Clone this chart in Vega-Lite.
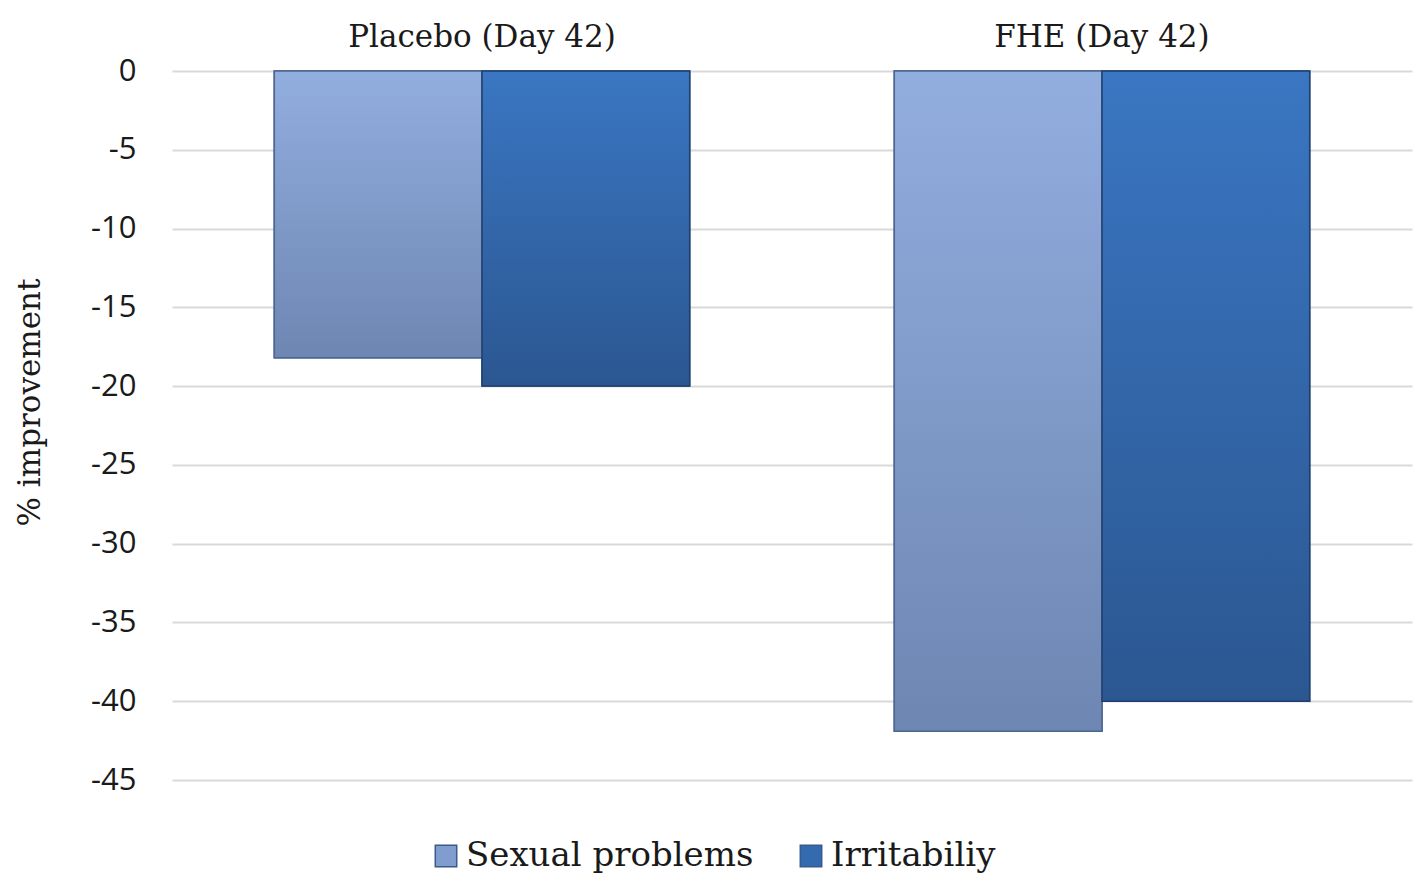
{
  "$schema": "https://vega.github.io/schema/vega-lite/v6.json",
  "width": 1240,
  "height": 709,
  "autosize": {"type": "none"},
  "padding": {"left": 172, "top": 71, "right": 6, "bottom": 104},
  "background": "white",
  "config": {"view": {"stroke": null}},
  "data": {
    "values": [
      {"group": "Placebo (Day 42)", "series": "Sexual problems", "value": -18.2},
      {"group": "Placebo (Day 42)", "series": "Irritabiliy", "value": -20.0},
      {"group": "FHE (Day 42)", "series": "Sexual problems", "value": -41.9},
      {"group": "FHE (Day 42)", "series": "Irritabiliy", "value": -40.0}
    ]
  },
  "encoding": {
    "x": {
      "field": "group", "type": "nominal", "sort": ["Placebo (Day 42)", "FHE (Day 42)"],
      "scale": {"paddingInner": 0.33, "paddingOuter": 0.165},
      "axis": {"orient": "top", "title": null, "domain": false, "ticks": false, "labelAngle": 0, "labelLimit": 0,
        "labelFont": "DejaVu Serif", "labelFontSize": 31, "labelColor": "#1a1a1a", "labelPadding": 34, "labelBaseline": "middle"}
    },
    "xOffset": {"field": "series", "type": "nominal", "sort": ["Sexual problems", "Irritabiliy"], "scale": {"paddingInner": 0, "paddingOuter": 0}},
    "y": {
      "field": "value", "type": "quantitative",
      "scale": {"domain": [-45, 0], "nice": false},
      "axis": {"values": [0, -5, -10, -15, -20, -25, -30, -35, -40, -45], "labelExpr": "toString(datum.value)",
        "title": "% improvement", "titleFont": "DejaVu Serif", "titleFontSize": 31, "titleFontWeight": "normal", "titleColor": "#1a1a1a", "titlePadding": 44, "titleY": 331,
        "domain": false, "ticks": false, "labelFont": "Open Sans", "labelFontSize": 31, "labelColor": "#1a1a1a", "labelPadding": 36,
        "grid": true, "gridColor": "#D9D9D9", "gridWidth": 2}
    }
  },
  "layer": [
    {
      "mark": {"type": "bar", "stroke": "#3b5a8c", "strokeWidth": 1.5},
      "encoding": {
        "color": {"field": "series", "type": "nominal", "sort": ["Sexual problems", "Irritabiliy"],
          "scale": {"domain": ["Sexual problems", "Irritabiliy"], "range": ["#819DCF", "#336AB0"]},
          "legend": {"orient": "none", "direction": "horizontal", "legendX": 257, "legendY": 768, "title": null, "symbolType": "square", "symbolSize": 460, "symbolStrokeWidth": 1.5, "symbolStrokeColor": "#3b5a8c",
            "labelFont": "DejaVu Serif", "labelFontSize": 34, "labelColor": "#1a1a1a", "columnPadding": 40, "labelLimit": 400, "labelOffset": 3}
        }
      }
    },
    {
      "transform": [{"filter": "datum.series === 'Sexual problems'"}],
      "mark": {"type": "bar", "stroke": "#4d6590", "strokeWidth": 1.5,
        "color": {"gradient": "linear", "x1": 0, "y1": 0, "x2": 0, "y2": 1,
          "stops": [{"offset": 0, "color": "#92AEDF"}, {"offset": 1, "color": "#6E86B2"}]}}
    },
    {
      "transform": [{"filter": "datum.series === 'Irritabiliy'"}],
      "mark": {"type": "bar", "stroke": "#1f3f6e", "strokeWidth": 1.5,
        "color": {"gradient": "linear", "x1": 0, "y1": 0, "x2": 0, "y2": 1,
          "stops": [{"offset": 0, "color": "#3A76C2"}, {"offset": 1, "color": "#2B5791"}]}}
    }
  ]
}
